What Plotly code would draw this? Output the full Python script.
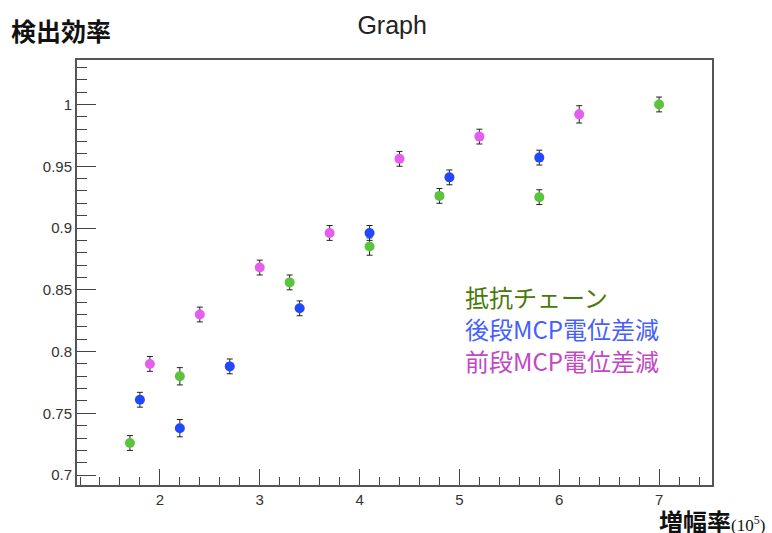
import plotly.graph_objects as go

# Data
gain_chain = [1.7, 2.2, 3.3, 4.1, 4.8, 5.8, 7.0]
eff_chain = [0.726, 0.780, 0.856, 0.885, 0.926, 0.925, 1.000]
err_chain = [0.006, 0.007, 0.006, 0.007, 0.006, 0.006, 0.006]

gain_rear = [1.8, 2.2, 2.7, 3.4, 4.1, 4.9, 5.8]
eff_rear = [0.761, 0.738, 0.788, 0.835, 0.896, 0.941, 0.957]
err_rear = [0.006, 0.007, 0.006, 0.006, 0.006, 0.006, 0.006]

gain_front = [1.9, 2.4, 3.0, 3.7, 4.4, 5.2, 6.2]
eff_front = [0.790, 0.830, 0.868, 0.896, 0.956, 0.974, 0.992]
err_front = [0.006, 0.006, 0.006, 0.006, 0.006, 0.006, 0.007]

series_names = ["抵抗チェーン", "後段MCP電位差減", "前段MCP電位差減"]
marker_colors = ["#5cc43c", "#1f48ff", "#e55ef0"]
label_colors = ["#4a7a08", "#4560ff", "#c248c2"]

fig = go.Figure()
for xs, ys, es, name, col in [
    (gain_chain, eff_chain, err_chain, series_names[0], marker_colors[0]),
    (gain_rear, eff_rear, err_rear, series_names[1], marker_colors[1]),
    (gain_front, eff_front, err_front, series_names[2], marker_colors[2]),
]:
    fig.add_trace(go.Scatter(
        x=xs, y=ys, mode="markers", name=name,
        marker=dict(color=col, size=10, line=dict(width=0)),
        error_y=dict(type="data", array=es, visible=True,
                     color="#222222", thickness=1, width=3),
    ))

# Legend as coloured text inside the plot
for i, (name, col) in enumerate(zip(series_names, label_colors)):
    fig.add_annotation(
        x=463, y=296 + i * 32, xref="paper", yref="paper",
        text=name, showarrow=False, xanchor="left", yanchor="middle",
        font=dict(family="Noto Sans CJK JP", size=24, color=col),
    )

fig.update_layout(
    width=772, height=533,
    margin=dict(l=77, r=60, t=60, b=48),
    paper_bgcolor="white", plot_bgcolor="white",
    showlegend=False,
    font=dict(family="Liberation Sans", size=15, color="#333333"),
    title=dict(text="Graph", x=0.508, y=0.952, xanchor="center", yanchor="middle",
               font=dict(family="Liberation Sans", size=25, color="#222222")),
)

fig.update_xaxes(
    range=[1.17, 7.53], dtick=1, tick0=0,
    ticks="inside", ticklen=16, tickwidth=1, tickcolor="#444444",
    minor=dict(ticks="inside", dtick=0.2, tick0=0, ticklen=8, tickcolor="#444444"),
    showgrid=False, zeroline=False,
    showline=True, mirror=True, linecolor="#555555", linewidth=2,
    tickfont=dict(family="Liberation Sans", size=15, color="#333333"),
)
fig.update_yaxes(
    range=[0.692, 1.036], dtick=0.05, tick0=0,
    ticks="inside", ticklen=19, tickwidth=1, tickcolor="#444444",
    minor=dict(ticks="inside", dtick=0.01, tick0=0, ticklen=10, tickcolor="#444444"),
    showgrid=False, zeroline=False,
    showline=True, mirror=True, linecolor="#555555", linewidth=2,
    tickfont=dict(family="Liberation Sans", size=15, color="#333333"),
)

# Axis titles as positioned texts
fig.add_annotation(
    x=9, y=30, xref="paper", yref="paper", text="<b>検出効率</b>",
    showarrow=False, xanchor="left", yanchor="middle",
    font=dict(family="Noto Sans CJK JP", size=25, color="#111111"),
)
fig.add_annotation(
    x=767, y=520, xref="paper", yref="paper",
    text="<b>増幅率</b><span style='font-family:Liberation Serif;font-size:17px;'>(10<sup>5</sup>)</span>",
    showarrow=False, xanchor="right", yanchor="middle",
    font=dict(family="Noto Sans CJK JP", size=24, color="#111111"),
)

# convert pixel annotation coords to paper coords
pw = 772 - 77 - 60
ph = 533 - 60 - 48
for ann in fig.layout.annotations:
    px, py = ann.x, ann.y
    ann.x = (px - 77) / pw
    ann.y = (533 - 48 - py) / ph

fig.write_html("out.html")
